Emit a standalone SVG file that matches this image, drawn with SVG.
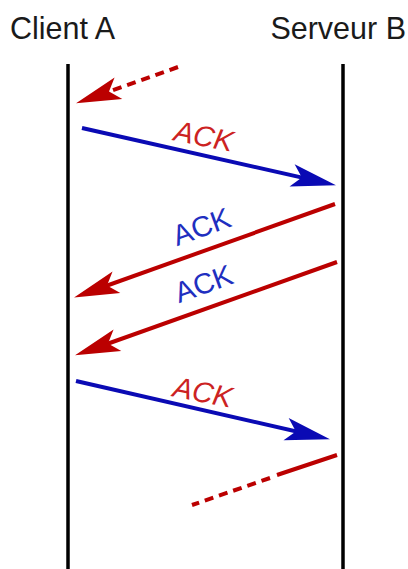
<svg xmlns="http://www.w3.org/2000/svg" width="408" height="569" viewBox="0 0 408 569">
<style>
.hdr{font-family:"Liberation Sans",Arial,sans-serif;font-size:30.5px;fill:#1a1a1a}
.life{stroke:#000;stroke-width:3.5;fill:none}
.red{stroke:#bb0000;stroke-width:4;fill:none}
.blue{stroke:#0a0ab4;stroke-width:4;fill:none}
.dash{stroke-dasharray:9 6}
.lbl{font-family:"Liberation Sans",Arial,sans-serif;font-size:29px;text-anchor:middle}
.lr{fill:#cc2222;font-style:italic}
.lb{fill:#1f2fc0}
</style>
<defs>
<marker id="hr" markerUnits="userSpaceOnUse" markerWidth="50" markerHeight="30" refX="33" refY="15" orient="auto" overflow="visible">
<path d="M46,15 L1,3.5 L11,15 L1,26.5 Z" fill="#bb0000"/>
</marker>
<marker id="hb" markerUnits="userSpaceOnUse" markerWidth="50" markerHeight="30" refX="33" refY="15" orient="auto" overflow="visible">
<path d="M46,15 L1,3.5 L11,15 L1,26.5 Z" fill="#0a0ab4"/>
</marker>
</defs>
<rect width="408" height="569" fill="#fff"/>
<g id="client-a">
<text class="hdr" x="10" y="39">Client A</text>
<line class="life" x1="68" y1="64" x2="68" y2="569"/>
</g>
<g id="serveur-b">
<text class="hdr" x="406" y="39" text-anchor="end">Serveur B</text>
<line class="life" x1="343" y1="64" x2="343" y2="569"/>
</g>
<g id="connectors">
<line class="red dash" x1="178" y1="67" x2="88.3" y2="99" marker-end="url(#hr)"/>
<line class="blue" x1="82" y1="128" x2="323.3" y2="182.4" marker-end="url(#hb)"/>
<text class="lbl lr" transform="translate(202,146) rotate(11)">ACK</text>
<line class="red" x1="335" y1="204" x2="86.3" y2="293" marker-end="url(#hr)"/>
<text class="lbl lb" transform="translate(205,236) rotate(-20)">ACK</text>
<line class="red" x1="337" y1="262" x2="87.3" y2="351" marker-end="url(#hr)"/>
<text class="lbl lb" transform="translate(207,293) rotate(-20)">ACK</text>
<line class="blue" x1="76" y1="381" x2="317.3" y2="436.3" marker-end="url(#hb)"/>
<text class="lbl lr" transform="translate(201,402) rotate(11)">ACK</text>
<line class="red" x1="337" y1="455" x2="277" y2="475"/>
<line class="red dash" x1="270" y1="478" x2="192" y2="505"/>
</g>
</svg>
